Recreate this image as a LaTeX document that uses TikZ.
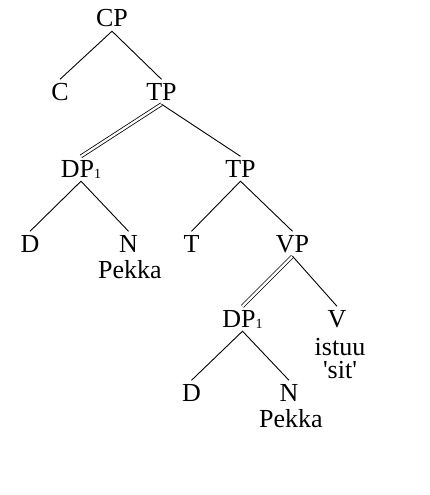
\documentclass[tikz,border=0pt]{standalone}
\usepackage{fontspec}
\setmainfont{Liberation Serif}
\begin{document}
\begin{tikzpicture}[x=1pt,y=-1pt,
  every node/.style={font=\fontsize{26}{30}\selectfont},
  cat/.style={anchor=base,inner xsep=0pt,inner ysep=4pt,text height=16.5pt,text depth=0pt},
  gloss/.style={anchor=base,inner sep=0pt},
  branch/.style={line width=0.9pt},
  twin/.style={line width=0.8pt,double=white,double distance=2.2pt}]
\useasboundingbox (0,0) rectangle (430,495);
\newcommand{\idx}{\raisebox{-1pt}{\fontsize{14}{14}\selectfont 1}}
% labels
\node[cat] (cp)  at (112,27)  {CP};
\node[cat] (c)   at (60,100)  {C};
\node[cat] (tp1) at (161.5,100) {TP};
\node[cat] (dp1) at (81,177)  {DP\idx};
\node[cat] (tp2) at (240.5,177) {TP};
\node[cat] (d1)  at (30,252)  {D};
\node[cat] (n1)  at (128.5,252) {N};
\node[gloss] (pk1) at (130,278) {Pekka};
\node[cat] (t)   at (191.5,252) {T};
\node[cat] (vp)  at (292.5,252) {VP};
\node[cat] (dp2) at (242.5,327) {DP\idx};
\node[cat] (v)   at (337,327) {V};
% two-line gloss; its base anchor sits on the last line
\node[gloss,align=center,font=\fontsize{26}{23}\selectfont] (vgl) at (340,378)
  {istuu\\\textquotesingle sit\textquotesingle};
\node[cat] (d2)  at (191.5,401) {D};
\node[cat] (n2)  at (289,401) {N};
\node[gloss] (pk2) at (291,427) {Pekka};
% branches
\draw[branch] (c.north) -- (cp.south) -- (tp1.north);
\draw[twin] (tp1.south) -- (dp1.north);
\draw[branch] (tp1.south) -- (tp2.north);
\draw[branch] (d1.north) -- (dp1.south) -- (n1.north);
\draw[branch] (t.north) -- (tp2.south) -- (vp.north);
\draw[twin] (vp.south) -- (dp2.north);
\draw[branch] (vp.south) -- (v.north);
\draw[branch] (d2.north) -- (dp2.south) -- (n2.north);
\end{tikzpicture}
\end{document}
